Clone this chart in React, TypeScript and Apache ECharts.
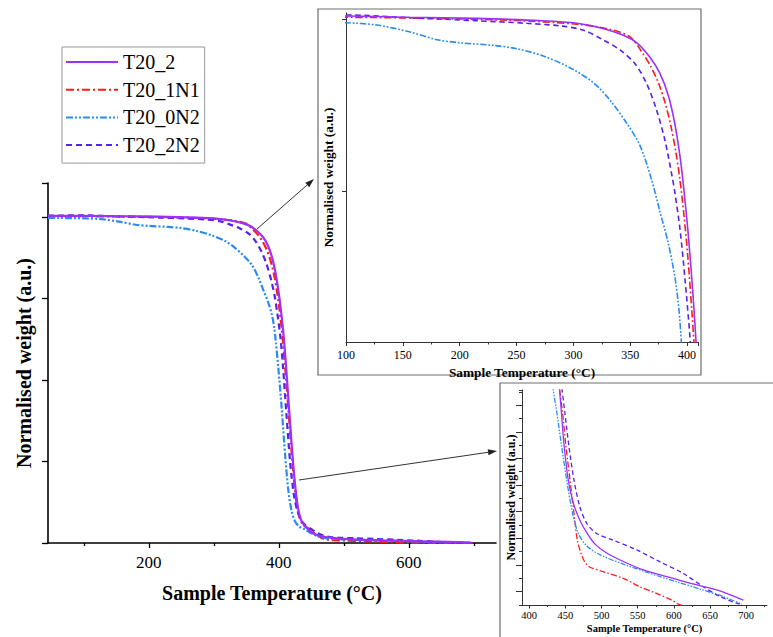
import { useEffect, useRef } from "react";
import * as echarts from "echarts";

const FONT = "'Liberation Serif', 'Times New Roman', serif";

// ---- data (temperature °C, normalised weight a.u.) ----
const T20_2_T = [45, 70, 100, 156, 215, 273, 303, 326, 344, 356, 367, 376, 383.5, 389.4, 393.8, 397, 401, 405, 408, 411, 414, 418, 422, 426, 430, 434, 438, 441.6, 444.9, 448, 454, 461, 470, 479.5, 491, 507, 530, 558, 590, 622, 659, 696];
const T20_2_W = [1.003, 1.003, 1.0035, 1.002, 1.0007, 0.998, 0.995, 0.989, 0.981, 0.972, 0.956, 0.937, 0.911, 0.877, 0.84, 0.804, 0.75, 0.683, 0.622, 0.545, 0.462, 0.35, 0.245, 0.16, 0.102, 0.072, 0.057, 0.0491, 0.0425, 0.0362, 0.0281, 0.0229, 0.0191, 0.0163, 0.0137, 0.0117, 0.0098, 0.0079, 0.0064, 0.0049, 0.0034, 0.0011];

const T20_1N1_T = [45, 100, 160, 244, 303, 332.6, 350, 360, 368, 375, 381, 386, 390, 393.5, 397, 400.5, 404, 406.5, 409.5, 413, 417, 421, 425, 429, 433, 437, 441.6, 446.2, 450.8, 456.4, 461.9, 466.5, 472.5, 478, 484, 502.4, 530, 553, 576, 597, 609, 650, 700];
const T20_1N1_W = [1.002, 1.002, 1.001, 0.9985, 0.994, 0.9878, 0.979, 0.962, 0.945, 0.925, 0.901, 0.874, 0.846, 0.815, 0.775, 0.726, 0.664, 0.615, 0.545, 0.455, 0.35, 0.245, 0.16, 0.102, 0.072, 0.057, 0.0491, 0.0431, 0.0356, 0.0281, 0.0206, 0.0146, 0.0112, 0.0094, 0.0085, 0.0075, 0.006, 0.0041, 0.0026, 0.0011, 0.0, -0.001, -0.0015];

const T20_0N2_T = [45, 60, 80, 100, 127, 156.3, 179.8, 200.3, 229.6, 250.1, 273.5, 297, 317.5, 332.1, 346.8, 358.5, 368.8, 376.1, 383.5, 389.4, 392.9, 395, 399.3, 404.5, 410, 415, 420, 425, 431, 438, 444.9, 451.8, 460, 467.9, 479.5, 498, 530, 562, 604, 636, 668, 694];
const T20_0N2_W = [0.9972, 0.9968, 0.9964, 0.9957, 0.993, 0.985, 0.976, 0.9724, 0.9693, 0.9655, 0.957, 0.9434, 0.926, 0.9058, 0.879, 0.853, 0.813, 0.776, 0.739, 0.699, 0.661, 0.624, 0.536, 0.41, 0.262, 0.155, 0.095, 0.066, 0.051, 0.0435, 0.0356, 0.0281, 0.0206, 0.0161, 0.0133, 0.0113, 0.0092, 0.0074, 0.0052, 0.0036, 0.0019, 0.0002];

const T20_2N2_T = [45, 100, 156, 215, 259, 288.6, 309, 326.3, 341, 354.2, 364.4, 373.2, 380.5, 386.4, 389.4, 393.8, 398.2, 402.6, 406.5, 411.5, 417.5, 423, 429, 436, 441, 444.9, 449.4, 455, 461.9, 470, 479.5, 493, 516, 548.6, 581, 613, 640.7, 663.7, 686.8, 695];
const T20_2N2_W = [1.004, 1.0047, 1.0015, 0.998, 0.995, 0.992, 0.987, 0.9756, 0.964, 0.948, 0.925, 0.894, 0.859, 0.82, 0.797, 0.755, 0.697, 0.628, 0.538, 0.4, 0.245, 0.15, 0.095, 0.065, 0.054, 0.0491, 0.0431, 0.0356, 0.0281, 0.0221, 0.0184, 0.0161, 0.0146, 0.0124, 0.0097, 0.0071, 0.0041, 0.0019, 0.0004, 0.0];

const SERIES_NAMES = ["T20_2", "T20_1N1", "T20_0N2", "T20_2N2"];

// ---- tick values ----
const MAIN_X_LABELS = [200, 400, 600];
const MAIN_X_MINOR = [100, 300, 500, 700];
const INSET1_Y_TICKS = [0.8, 1.0];
const INSET2_X_LABELS = [400, 450, 500, 550, 600, 650, 700];
const INSET2_X_MINOR = [425, 475, 525, 575, 625, 675, 725];
const INSET2_Y_MAJOR = [0.003, 0.009, 0.015, 0.021, 0.027, 0.033, 0.039, 0.045];

const STYLES = [
  { color: "#9b30ff", dash: null as number[] | null, t: T20_2_T, w: T20_2_W },
  { color: "#ff1a1a", dash: [8, 3, 2, 3], t: T20_1N1_T, w: T20_1N1_W },
  { color: "#2a8cf0", dash: [7, 2, 2, 2, 2, 2], t: T20_0N2_T, w: T20_0N2_W },
  { color: "#5522ee", dash: [6, 4], t: T20_2N2_T, w: T20_2N2_W },
];

function pairs(t: number[], w: number[]) {
  return t.map((x, i) => [x, w[i]]);
}

function makeSeries(xIdx: number, yIdx: number, width: number, scale: number) {
  return STYLES.map((s, i) => ({
    type: "line",
    name: SERIES_NAMES[i],
    xAxisIndex: xIdx,
    yAxisIndex: yIdx,
    data: pairs(s.t, s.w),
    symbol: "none",
    showSymbol: false,
    smooth: 0.3,
    clip: true,
    silent: true,
    z: 3 + (i === 0 ? 1 : 0),
    lineStyle: {
      color: s.color,
      width,
      type: s.dash ? s.dash.map((d) => d * scale) : "solid",
    },
    itemStyle: { color: s.color },
    emphasis: { disabled: true },
  }));
}

function arrow(x1: number, y1: number, x2: number, y2: number) {
  const len = 9;
  const half = 3;
  const dx = x2 - x1;
  const dy = y2 - y1;
  const L = Math.hypot(dx, dy);
  const ux = dx / L;
  const uy = dy / L;
  const bx = x2 - ux * len;
  const by = y2 - uy * len;
  return [
    { type: "line", shape: { x1, y1, x2: bx, y2: by }, style: { stroke: "#333", lineWidth: 1 } },
    {
      type: "polygon",
      shape: { points: [[x2, y2], [bx - uy * half, by + ux * half], [bx + uy * half, by - ux * half]] },
      style: { fill: "#222" },
    },
  ];
}

const axisBase = (color: string, width: number) => ({
  type: "value",
  axisLine: { show: true, onZero: false, lineStyle: { color, width } },
  splitLine: { show: false },
});

export default function App() {
  const ref = useRef<HTMLDivElement>(null);
  useEffect(() => {
    if (!ref.current) return;
    const chart = echarts.init(ref.current, null, { renderer: "svg" });
    const nameMain = { fontFamily: FONT, fontWeight: "bold", fontSize: 20, color: "#000" };
    const option: any = {
      animation: false,
      backgroundColor: "#fff",
      grid: [
        { left: 48, top: 183, width: 448, height: 360, containLabel: false, outerBoundsMode: "none" },
        { left: 346, top: 13, width: 352, height: 329, containLabel: false, outerBoundsMode: "none" },
        { left: 522, top: 390, width: 245, height: 215, containLabel: false, outerBoundsMode: "none" },
      ],
      legend: {
        data: SERIES_NAMES,
        orient: "vertical",
        left: 62,
        top: 47,
        itemWidth: 52,
        itemHeight: 14,
        itemGap: 7.7,
        padding: [5, 5, 8, 3],
        borderColor: "#999",
        borderWidth: 1,
        backgroundColor: "#fff",
        selectedMode: false,
        itemStyle: { color: "transparent", borderColor: "transparent", borderWidth: 0, opacity: 0 },
        textStyle: { fontFamily: FONT, fontSize: 20, color: "#000", lineHeight: 20 },
      },
      xAxis: [
        {
          ...axisBase("#000", 1.6),
          gridIndex: 0,
          position: "bottom",
          min: 45,
          max: 734,
          axisTick: { show: true, customValues: MAIN_X_LABELS, length: 5, lineStyle: { color: "#000", width: 1.3 } },
          axisLabel: { customValues: MAIN_X_LABELS, fontFamily: FONT, fontSize: 17, color: "#000", margin: 11 },
          name: "Sample Temperature (°C)",
          nameLocation: "middle",
          nameGap: 40,
          nameTextStyle: nameMain,
        },
        {
          type: "value",
          gridIndex: 0,
          position: "bottom",
          min: 45,
          max: 734,
          axisLine: { show: false },
          splitLine: { show: false },
          axisTick: { show: true, customValues: MAIN_X_MINOR, length: 3, lineStyle: { color: "#000", width: 1.3 } },
          axisLabel: { show: false },
        },
        {
          ...axisBase("#333", 1),
          gridIndex: 1,
          position: "bottom",
          min: 100,
          max: 409.6,
          interval: 50,
          axisTick: { show: true, length: 4, interval: 0, lineStyle: { color: "#333" } },
          minorTick: { show: true, splitNumber: 2, length: 2.5, lineStyle: { color: "#333" } },
          axisLabel: { fontFamily: FONT, fontSize: 12, color: "#000", margin: 7, interval: 0 },
          name: "Sample Temperature (°C)",
          nameLocation: "middle",
          nameGap: 19,
          nameTextStyle: { fontFamily: FONT, fontWeight: "bold", fontSize: 13.3, color: "#000" },
        },
        {
          ...axisBase("#333", 1),
          gridIndex: 2,
          position: "bottom",
          min: 390,
          max: 728.7,
          axisTick: { show: true, customValues: INSET2_X_LABELS, length: 3.5, lineStyle: { color: "#333" } },
          axisLabel: { customValues: INSET2_X_LABELS, fontFamily: FONT, fontSize: 10.5, color: "#000", margin: 5 },
          name: "Sample Temperature (°C)",
          nameLocation: "middle",
          nameGap: 18,
          nameTextStyle: { fontFamily: FONT, fontWeight: "bold", fontSize: 10.5, color: "#000" },
        },
        {
          type: "value",
          gridIndex: 2,
          position: "bottom",
          min: 390,
          max: 728.7,
          axisLine: { show: false },
          splitLine: { show: false },
          axisTick: { show: true, customValues: INSET2_X_MINOR, length: 2, lineStyle: { color: "#333" } },
          axisLabel: { show: false },
        },
      ],
      yAxis: [
        {
          ...axisBase("#000", 1.6),
          gridIndex: 0,
          position: "left",
          min: 0,
          max: 1.104,
          interval: 0.25,
          axisTick: { show: true, length: 6, interval: 0, lineStyle: { color: "#000", width: 1.3 } },
          axisLabel: { show: false },
          name: "Normalised weight (a.u.)",
          nameLocation: "middle",
          nameGap: 14,
          nameTextStyle: nameMain,
        },
        {
          ...axisBase("#333", 1),
          gridIndex: 1,
          position: "left",
          min: 0.6244,
          max: 1.007,
          axisTick: { show: true, customValues: INSET1_Y_TICKS, length: 4, lineStyle: { color: "#333" } },
          axisLabel: { show: false },
          name: "Normalised weight (a.u.)",
          nameLocation: "middle",
          nameGap: 11,
          nameTextStyle: { fontFamily: FONT, fontWeight: "bold", fontSize: 13.3, color: "#000" },
        },
        {
          ...axisBase("#333", 1),
          gridIndex: 2,
          position: "left",
          min: 0,
          max: 0.0484,
          interval: 0.003,
          axisTick: { show: true, length: 3, interval: 0, lineStyle: { color: "#333" } },
          axisLabel: { show: false },
          name: "Normalised weight (a.u.)",
          nameLocation: "middle",
          nameGap: 5,
          nameTextStyle: { fontFamily: FONT, fontWeight: "bold", fontSize: 12, color: "#000" },
        },
        {
          type: "value",
          gridIndex: 2,
          position: "left",
          min: 0,
          max: 0.0484,
          axisLine: { show: false },
          splitLine: { show: false },
          axisTick: { show: true, customValues: INSET2_Y_MAJOR, length: 6, lineStyle: { color: "#333" } },
          axisLabel: { show: false },
        },
      ],
      graphic: [
        { type: "rect", z: -10, shape: { x: 318, y: 9, width: 383, height: 366 }, style: { fill: "none", stroke: "#6e6e6e", lineWidth: 1.2 } },
        { type: "rect", z: -10, shape: { x: 500, y: 383, width: 320, height: 300 }, style: { fill: "none", stroke: "#6e6e6e", lineWidth: 1.2 } },
        ...arrow(257, 229, 314, 179),
        ...arrow(299, 480, 497, 451),
      ],
      series: [
        ...makeSeries(0, 0, 2.2, 1),
        ...makeSeries(2, 1, 1.6, 0.9),
        ...makeSeries(3, 2, 1.3, 0.75),
      ],
    };
    chart.setOption(option);
    return () => chart.dispose();
  }, []);
  return <div ref={ref} style={{ position: "fixed", left: 0, top: 0, width: 773, height: 637 }} />;
}
